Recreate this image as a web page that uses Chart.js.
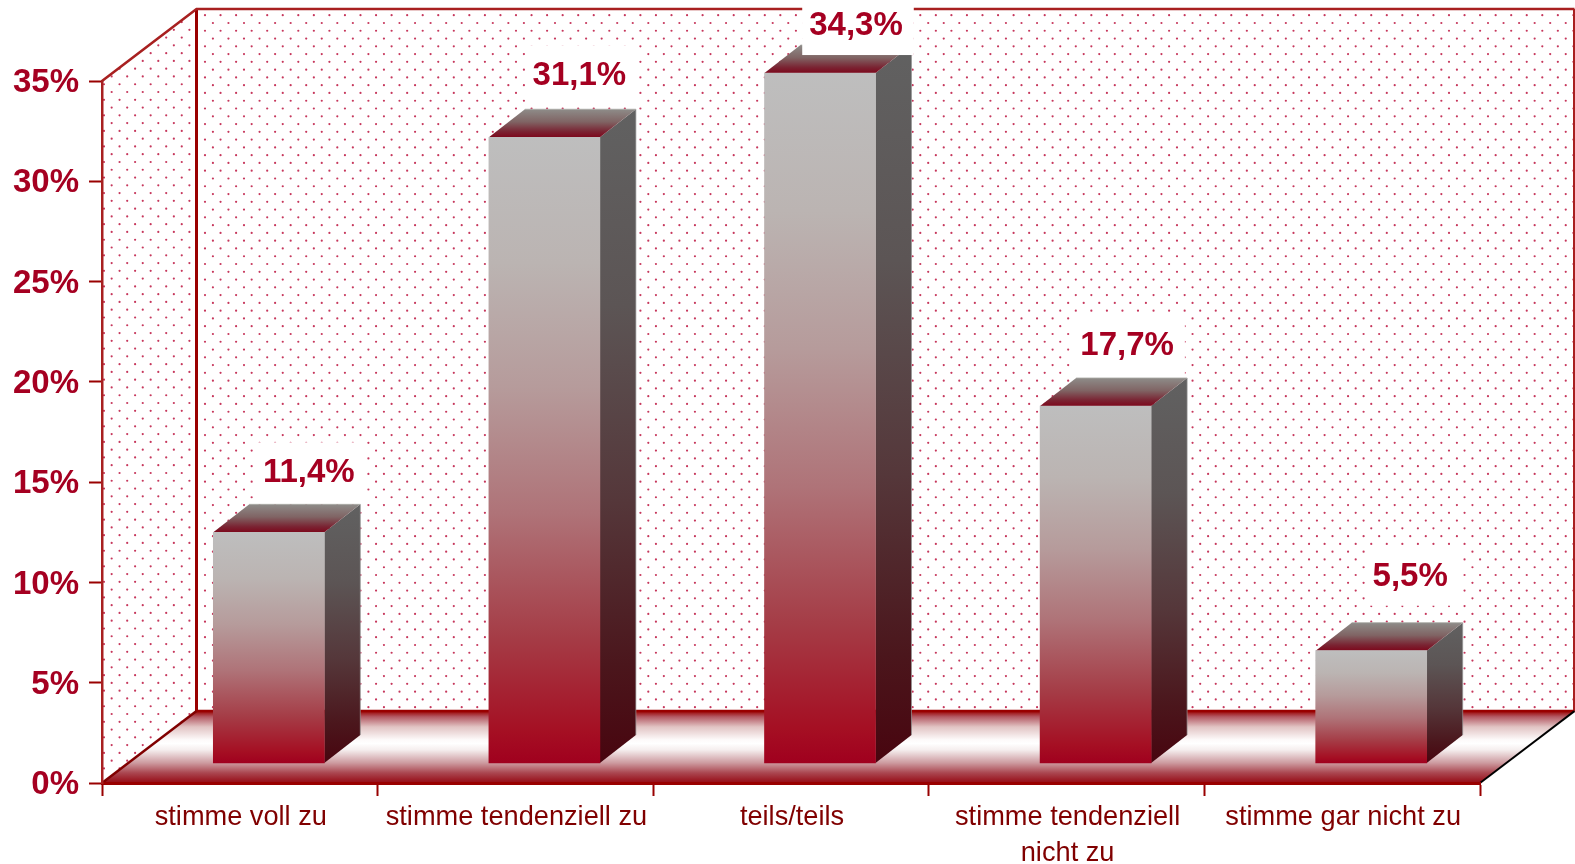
<!DOCTYPE html>
<html lang="de"><head><meta charset="utf-8">
<style>html,body{margin:0;padding:0;background:#fff}canvas{display:block}#w{width:1575px;height:864px;position:relative}</style>
<script src="https://cdn.jsdelivr.net/npm/chart.js@4"></script>
</head><body><div id="w"><canvas id="c" width="1575" height="864"></canvas></div>
<script>
const categories = [['stimme voll zu'], ['stimme tendenziell zu'], ['teils/teils'], ['stimme tendenziell', 'nicht zu'], ['stimme gar nicht zu']];
const values = [11.4, 31.1, 34.3, 17.7, 5.5];
const yTicks = [0, 5, 10, 15, 20, 25, 30, 35];

const RED = '#A50021', DARK = '#990000', XTXT = '#800000';
const WALL_DX = 94.5, WALL_DY = 72;        // room depth
const BAR_SHIFT_X = 29, BAR_SHIFT_Y = -22; // bars stand inside the room
const BAR_DX = 36, BAR_DY = 28;            // bar depth
const LABEL_NUDGE_X = [40, 35, 36, 31.5, 39];
const LABEL_LIFT = [60, 62, 48, 61, 75];

function stops(g, list) { list.forEach(([t, c]) => g.addColorStop(t, c)); return g; }

function dots(ctx, x0, y0, x1, y1, ox, oy) {
  ctx.fillStyle = 'rgba(188,20,63,0.85)';
  const sx = 15.55, sy = 15.55;
  [[0, 0], [7.9, 7.8]].forEach(([ax, ay]) => {
    for (let y = oy + ay; y < y1; y += sy)
      for (let x = ox + ax; x < x1; x += sx) {
        if (x < x0 || y < y0) continue;
        ctx.beginPath(); ctx.arc(x, y, 1.1, 0, Math.PI * 2); ctx.fill();
      }
  });
}

const room = {
  id: 'room',
  beforeDraw(chart) {
    const { ctx, chartArea: a } = chart;
    const L = a.left, R = a.right, T = a.top, B = a.bottom;
    const bl = L + WALL_DX, br = R + WALL_DX, bt = T - WALL_DY, bb = B - WALL_DY;
    ctx.save();
    // back wall dots
    ctx.save(); ctx.beginPath(); ctx.rect(bl, bt, br - bl, bb - bt); ctx.clip();
    dots(ctx, bl, bt, br, bb, bl + 8.5, bt + 6.2);
    ctx.restore();
    // left wall dots
    ctx.save(); ctx.beginPath();
    ctx.moveTo(L, T); ctx.lineTo(bl, bt); ctx.lineTo(bl, bb); ctx.lineTo(L, B); ctx.closePath(); ctx.clip();
    dots(ctx, L, bt, bl, B, L - 5.9, bt - 10.3 + 15.55);
    ctx.restore();
    // floor
    ctx.fillStyle = stops(ctx.createLinearGradient(0, bb, 0, B), [
      [0, '#990000'], [0.08, 'rgb(180,90,100)'], [0.22, 'rgb(225,195,195)'],
      [0.4, 'rgb(253,250,250)'], [0.45, '#fff'], [0.54, 'rgb(245,238,238)'],
      [0.72, 'rgb(205,155,160)'], [0.86, 'rgb(170,70,80)'], [1, 'rgb(150,10,20)']]);
    ctx.beginPath();
    ctx.moveTo(L, B); ctx.lineTo(bl, bb); ctx.lineTo(br, bb); ctx.lineTo(R, B); ctx.closePath(); ctx.fill();
    // room outline
    ctx.strokeStyle = DARK; ctx.lineWidth = 3;
    ctx.beginPath(); ctx.moveTo(bl, bt); ctx.lineTo(bl, bb); ctx.stroke();
    ctx.lineWidth = 2.6;
    ctx.beginPath(); ctx.moveTo(bl, bb); ctx.lineTo(br, bb); ctx.stroke();
    ctx.strokeStyle = '#A82020';
    ctx.beginPath(); ctx.moveTo(L, T); ctx.lineTo(bl, bt); ctx.lineTo(br, bt); ctx.stroke();
    ctx.lineWidth = 2;
    ctx.beginPath(); ctx.moveTo(br - 0.5, bt); ctx.lineTo(br - 0.5, bb); ctx.stroke();
    ctx.strokeStyle = '#800000'; ctx.lineWidth = 2.4;
    ctx.beginPath(); ctx.moveTo(L, B); ctx.lineTo(bl, bb); ctx.stroke();
    ctx.strokeStyle = '#000'; ctx.lineWidth = 2;
    ctx.beginPath(); ctx.moveTo(R, B); ctx.lineTo(br, bb); ctx.stroke();
    ctx.restore();
  },
  beforeDatasetDraw(chart) {
    const { ctx } = chart;
    const meta = chart.getDatasetMeta(0);
    ctx.save();
    ctx.translate(BAR_SHIFT_X, BAR_SHIFT_Y);
    meta.data.forEach(el => {
      const l = el.x - el.width / 2, r = el.x + el.width / 2, t = el.y, b = el.base;
      // side face
      ctx.fillStyle = stops(ctx.createLinearGradient(0, t - BAR_DY, 0, b), [
        [0, 'rgb(97,97,97)'], [0.3, 'rgb(92,85,85)'], [0.6, 'rgb(85,55,58)'], [0.85, 'rgb(75,22,28)'], [1, 'rgb(72,5,15)']]);
      ctx.beginPath();
      ctx.moveTo(r, t); ctx.lineTo(r + BAR_DX, t - BAR_DY); ctx.lineTo(r + BAR_DX, b - BAR_DY); ctx.lineTo(r, b); ctx.closePath(); ctx.fill();
      ctx.strokeStyle = 'rgba(150,150,150,0.7)'; ctx.lineWidth = 1;
      ctx.beginPath(); ctx.moveTo(r + BAR_DX, t - BAR_DY); ctx.lineTo(r + BAR_DX, b - BAR_DY); ctx.stroke();
      // top face
      ctx.fillStyle = stops(ctx.createLinearGradient(0, t - BAR_DY, 0, t), [
        [0, 'rgb(142,140,137)'], [0.45, 'rgb(128,100,100)'], [0.8, 'rgb(122,35,50)'], [1, 'rgb(125,8,28)']]);
      ctx.beginPath();
      ctx.moveTo(l, t); ctx.lineTo(l + BAR_DX, t - BAR_DY); ctx.lineTo(r + BAR_DX, t - BAR_DY); ctx.lineTo(r, t); ctx.closePath(); ctx.fill();
      ctx.strokeStyle = 'rgba(170,170,165,0.8)';
      ctx.beginPath(); ctx.moveTo(l + BAR_DX, t - BAR_DY); ctx.lineTo(r + BAR_DX, t - BAR_DY); ctx.stroke();
    });
  },
  afterDatasetDraw(chart) {
    const { ctx } = chart;
    ctx.restore();
    const meta = chart.getDatasetMeta(0);
    ctx.save();
    ctx.font = 'bold 33px "Liberation Sans", Arial, sans-serif';
    ctx.textBaseline = 'middle'; ctx.textAlign = 'center';
    meta.data.forEach((el, i) => {
      const txt = values[i].toFixed(1).replace('.', ',') + '%';
      const cx = el.x + BAR_SHIFT_X + LABEL_NUDGE_X[i], cy = el.y + BAR_SHIFT_Y - LABEL_LIFT[i];
      const w = ctx.measureText(txt).width;
      ctx.fillStyle = '#fff';
      ctx.fillRect(cx - w / 2 - 7, cy - 30, w + 18, 60);
      ctx.fillStyle = RED;
      ctx.fillText(txt, cx, cy + 1);
    });
    ctx.restore();
  }
};

new Chart(document.getElementById('c'), {
  type: 'bar',
  data: {
    labels: categories,
    datasets: [{
      data: values,
      base: -0.1,
      barThickness: 111,
      borderWidth: 0,
      clip: false,
      backgroundColor(c) {
        const ch = c.chart, yS = ch.scales.y;
        if (c.parsed === undefined || !yS) return '#BEBEBE';
        const y0 = yS.getPixelForValue(c.parsed.y), y1 = yS.getPixelForValue(-0.1);
        if (!isFinite(y0) || !isFinite(y1)) return '#BEBEBE';
        return stops(ch.ctx.createLinearGradient(0, y0, 0, y1), [
          [0, 'rgb(190,190,190)'], [0.2, 'rgb(187,180,178)'], [0.4, 'rgb(182,155,155)'],
          [0.6, 'rgb(175,115,120)'], [0.8, 'rgb(165,60,70)'], [0.95, 'rgb(165,15,35)'], [1, 'rgb(160,0,30)']]);
      }
    }]
  },
  plugins: [room],
  options: {
    responsive: false,
    animation: false,
    layout: { padding: { top: 81, right: 95, left: 0, bottom: 0 } },
    plugins: { legend: { display: false }, tooltip: { enabled: false }, title: { display: false } },
    scales: {
      x: {
        afterFit(s) { s.height = 81; },
        grid: { offset: true, drawOnChartArea: false, drawTicks: true, tickLength: 13, tickColor: DARK, tickWidth: 2 },
        border: { display: true, color: DARK, width: 3 },
        ticks: { maxRotation: 0, minRotation: 0, autoSkip: false, padding: 4, labelOffset: 1, color: XTXT,
          font: { family: '"Liberation Sans", Arial, sans-serif', size: 27.2, lineHeight: 1.31 } }
      },
      y: {
        min: 0, max: 35,
        afterFit(s) { s.width = 102; },
        afterBuildTicks(s) { s.ticks = yTicks.map(v => ({ value: v })); },
        grid: { drawOnChartArea: false, drawTicks: true, tickLength: 13, tickColor: DARK, tickWidth: 2 },
        border: { display: true, color: '#A82020', width: 2.5 },
        ticks: { padding: 10, labelOffset: 2, color: RED, callback: v => v + '%',
          font: { family: '"Liberation Sans", Arial, sans-serif', size: 33, weight: 'bold' } }
      }
    }
  }
});
</script></body></html>
